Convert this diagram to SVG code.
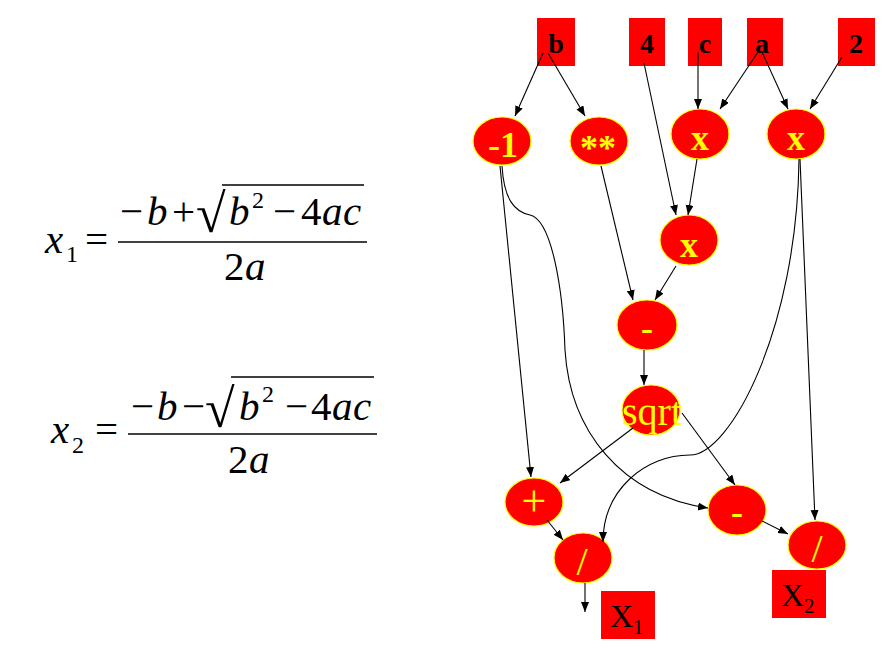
<svg xmlns="http://www.w3.org/2000/svg" width="892" height="666" viewBox="0 0 892 666">
<defs>
<marker id="ah" markerUnits="userSpaceOnUse" markerWidth="11" markerHeight="9" refX="10" refY="4" orient="auto">
<path d="M0,0 L10,4 L0,8 z" fill="#000"/>
</marker>
</defs>
<style>
.m{font-family:"Liberation Serif","Times New Roman",serif;font-size:41px;fill:#000}
.i{font-style:italic}
.sub{font-size:24px}
.rad{font-size:54px}
.bar{stroke:#000;stroke-width:1.6}
.box{fill:#FF0000}
.bt{font-family:"Liberation Serif",serif;font-weight:bold;font-size:28px;fill:#000;text-anchor:middle}
.el{fill:#FF0000;stroke:#FFFF00;stroke-width:1.2}
.nt{font-family:"Liberation Serif",serif;font-weight:bold;font-size:36px;fill:#FFFF00;text-anchor:middle}
.nr{font-family:"Liberation Serif",serif;font-size:40px;fill:#FFFF00;text-anchor:middle}
.xt{font-family:"Liberation Serif",serif;font-size:32px;fill:#000}
.e{fill:none;stroke:#000;stroke-width:1.1;marker-end:url(#ah)}
</style>
<rect width="892" height="666" fill="#fff"/>

<g id="formula1">
<text class="m i" x="45" y="253">x</text>
<text class="m sub" x="66" y="262">1</text>
<text class="m" x="85" y="253">=</text>
<text class="m" y="225"><tspan x="120">−</tspan><tspan x="147" class="i">b</tspan><tspan x="172">+</tspan></text>
<text class="m rad" x="196" y="232">√</text>
<line class="bar" x1="222" y1="185" x2="364" y2="185"/>
<text class="m" y="225"><tspan x="229" class="i">b</tspan><tspan x="273">−</tspan><tspan x="301">4</tspan><tspan x="322" class="i">a</tspan><tspan x="343" class="i">c</tspan></text>
<text class="m sub" x="252" y="208">2</text>
<line class="bar" x1="118" y1="242" x2="367" y2="242"/>
<text class="m" y="280"><tspan x="224">2</tspan><tspan x="245" class="i">a</tspan></text>
</g>

<g id="formula2">
<text class="m i" x="51" y="443">x</text>
<text class="m sub" x="72" y="453">2</text>
<text class="m" x="95" y="443">=</text>
<text class="m" y="420"><tspan x="131">−</tspan><tspan x="157" class="i">b</tspan><tspan x="182">−</tspan></text>
<text class="m rad" x="205" y="427">√</text>
<line class="bar" x1="231" y1="377" x2="374" y2="377"/>
<text class="m" y="420"><tspan x="239" class="i">b</tspan><tspan x="285">−</tspan><tspan x="311">4</tspan><tspan x="332" class="i">a</tspan><tspan x="353" class="i">c</tspan></text>
<text class="m sub" x="262" y="402">2</text>
<line class="bar" x1="128" y1="434" x2="377" y2="434"/>
<text class="m" y="473"><tspan x="228">2</tspan><tspan x="249" class="i">a</tspan></text>
</g>

<g id="in-b"><rect class="box" x="537" y="18" width="38" height="48"/><text class="bt" x="556" y="53">b</text></g>
<g id="in-4"><rect class="box" x="629" y="18" width="36" height="48"/><text class="bt" x="647" y="53">4</text></g>
<g id="in-c"><rect class="box" x="688" y="18" width="34" height="48"/><text class="bt" x="705" y="53">c</text></g>
<g id="in-a"><rect class="box" x="747" y="18" width="36" height="48"/><text class="bt" x="762" y="53">a</text></g>
<g id="in-2"><rect class="box" x="838" y="18" width="37" height="48"/><text class="bt" x="856" y="53">2</text></g>

<g id="neg1"><ellipse class="el" cx="502" cy="141" rx="29" ry="24"/><text class="nt" x="503" y="157">-1</text></g>
<g id="sq"><ellipse class="el" cx="599" cy="141" rx="29" ry="24"/><text class="nt" x="598" y="160">**</text></g>
<g id="mul1"><ellipse class="el" cx="700" cy="134" rx="29" ry="25"/><text class="nt" x="700" y="150">x</text></g>
<g id="mul2"><ellipse class="el" cx="796" cy="134" rx="29" ry="25"/><text class="nt" x="796" y="150">x</text></g>
<g id="mul3"><ellipse class="el" cx="689" cy="240" rx="29" ry="25"/><text class="nt" x="689" y="257">x</text></g>
<g id="sub1"><ellipse class="el" cx="647" cy="325" rx="30" ry="25"/><text class="nt" x="647" y="340">-</text></g>
<g id="sqrt"><ellipse class="el" cx="651" cy="410" rx="29" ry="25"/><text class="nr" x="652" y="425">sqrt</text></g>
<g id="add"><ellipse class="el" cx="534" cy="502" rx="29" ry="24"/><text class="nr" x="534" y="516" style="font-size:44px">+</text></g>
<g id="sub2"><ellipse class="el" cx="737" cy="510" rx="29" ry="25"/><text class="nt" x="737" y="524">-</text></g>
<g id="div1"><ellipse class="el" cx="583" cy="558" rx="29" ry="25"/><text class="nr" x="582" y="575">/</text></g>
<g id="div2"><ellipse class="el" cx="817" cy="545" rx="29" ry="24"/><text class="nr" x="817" y="562">/</text></g>

<g id="out-x1"><rect class="box" x="601" y="591" width="54" height="48"/><text class="xt" x="610" y="627">X<tspan style="font-size:21px" dy="7">1</tspan></text></g>
<g id="out-x2"><rect class="box" x="772" y="570" width="54" height="48"/><text class="xt" x="781" y="606">X<tspan style="font-size:21px" dy="7">2</tspan></text></g>

<g id="connectors">
<line class="e" x1="543" y1="53" x2="515" y2="116"/>
<line class="e" x1="548" y1="53" x2="585" y2="116"/>
<line class="e" x1="644" y1="63" x2="676" y2="215"/>
<line class="e" x1="698" y1="52" x2="698" y2="109"/>
<line class="e" x1="758" y1="52" x2="720" y2="109"/>
<line class="e" x1="762" y1="52" x2="788" y2="109"/>
<line class="e" x1="842" y1="57" x2="810" y2="109"/>
<line class="e" x1="697" y1="159" x2="688" y2="215"/>
<line class="e" x1="601" y1="166" x2="633" y2="300"/>
<line class="e" x1="676" y1="266" x2="655" y2="300"/>
<line class="e" x1="644" y1="350" x2="644" y2="385"/>
<line class="e" x1="500" y1="166" x2="531" y2="477"/>
<path class="e" d="M502,166 C504,200 515,212 530,215 C552,220 563,290 565,350 C570,430 620,495 708,508"/>
<line class="e" x1="633" y1="428" x2="560" y2="483"/>
<line class="e" x1="682" y1="413" x2="735" y2="485"/>
<path class="e" d="M799,159 C797,330 730,455 690,455 C645,455 603,490 603,542"/>
<line class="e" x1="800" y1="159" x2="815" y2="520"/>
<line class="e" x1="547" y1="520" x2="563" y2="540"/>
<line class="e" x1="762" y1="521" x2="788" y2="534"/>
<line class="e" x1="585" y1="583" x2="585" y2="612"/>
</g>
</svg>
